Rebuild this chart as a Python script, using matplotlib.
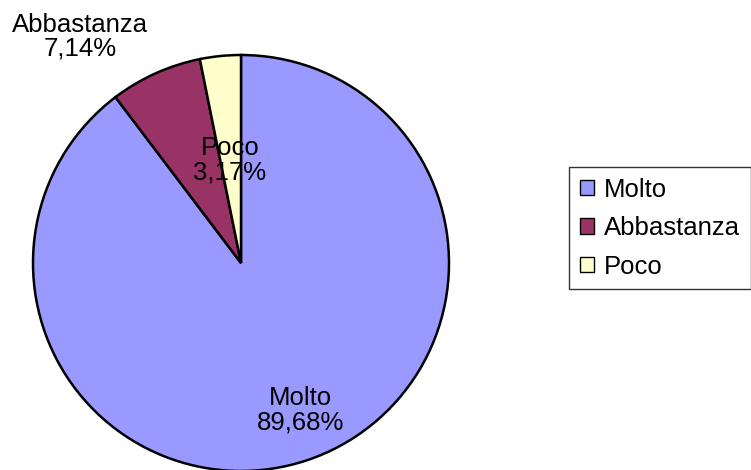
import matplotlib.pyplot as plt

# data
categories = ["Molto", "Abbastanza", "Poco"]
values = [89.68, 7.14, 3.17]
labels_pct = ["89,68%", "7,14%", "3,17%"]
colors = ["#9999FF", "#993366", "#FFFFCC"]

plt.rcParams['font.family'] = ['Liberation Sans', 'DejaVu Sans']

W, H = 751, 470
fig = plt.figure(figsize=(W / 100, H / 100), dpi=100)

# pie axes: centre (241, 263) px, radius 208 px
cx, cy, r = 241, 263, 208
ax = fig.add_axes([(cx - r) / W, (H - cy - r) / H, 2 * r / W, 2 * r / H])
wedges, _ = ax.pie(values, colors=colors, startangle=90, counterclock=False,
                   radius=1, wedgeprops=dict(edgecolor="black", linewidth=1.8))
ax.set_xlim(-1, 1)
ax.set_ylim(-1, 1)
ax.set_aspect("equal")
ax.axis("off")

# label positions (pie data coords)
label_xy = [(0.284, -0.707), (-0.774, 1.087), (-0.053, 0.495)]
for cat, pct, (x, y) in zip(categories, labels_pct, label_xy):
    ax.text(x, y, f"{cat}\n{pct}", ha="center", va="center", fontsize=18.5,
            linespacing=1.0, clip_on=False)

leg = fig.legend(wedges, categories, loc="upper left",
                 bbox_to_anchor=(569 / W, 1 - 167 / H), borderaxespad=0,
                 fontsize=18.5, frameon=True, fancybox=False,
                 handlelength=0.55, handleheight=0.55, handletextpad=0.4,
                 labelspacing=0.56, borderpad=0.42)
leg.get_frame().set_edgecolor("black")
leg.get_frame().set_linewidth(1.0)
for h in leg.legend_handles:
    h.set_linewidth(1.0)

fig.savefig("out.png", dpi=100)
